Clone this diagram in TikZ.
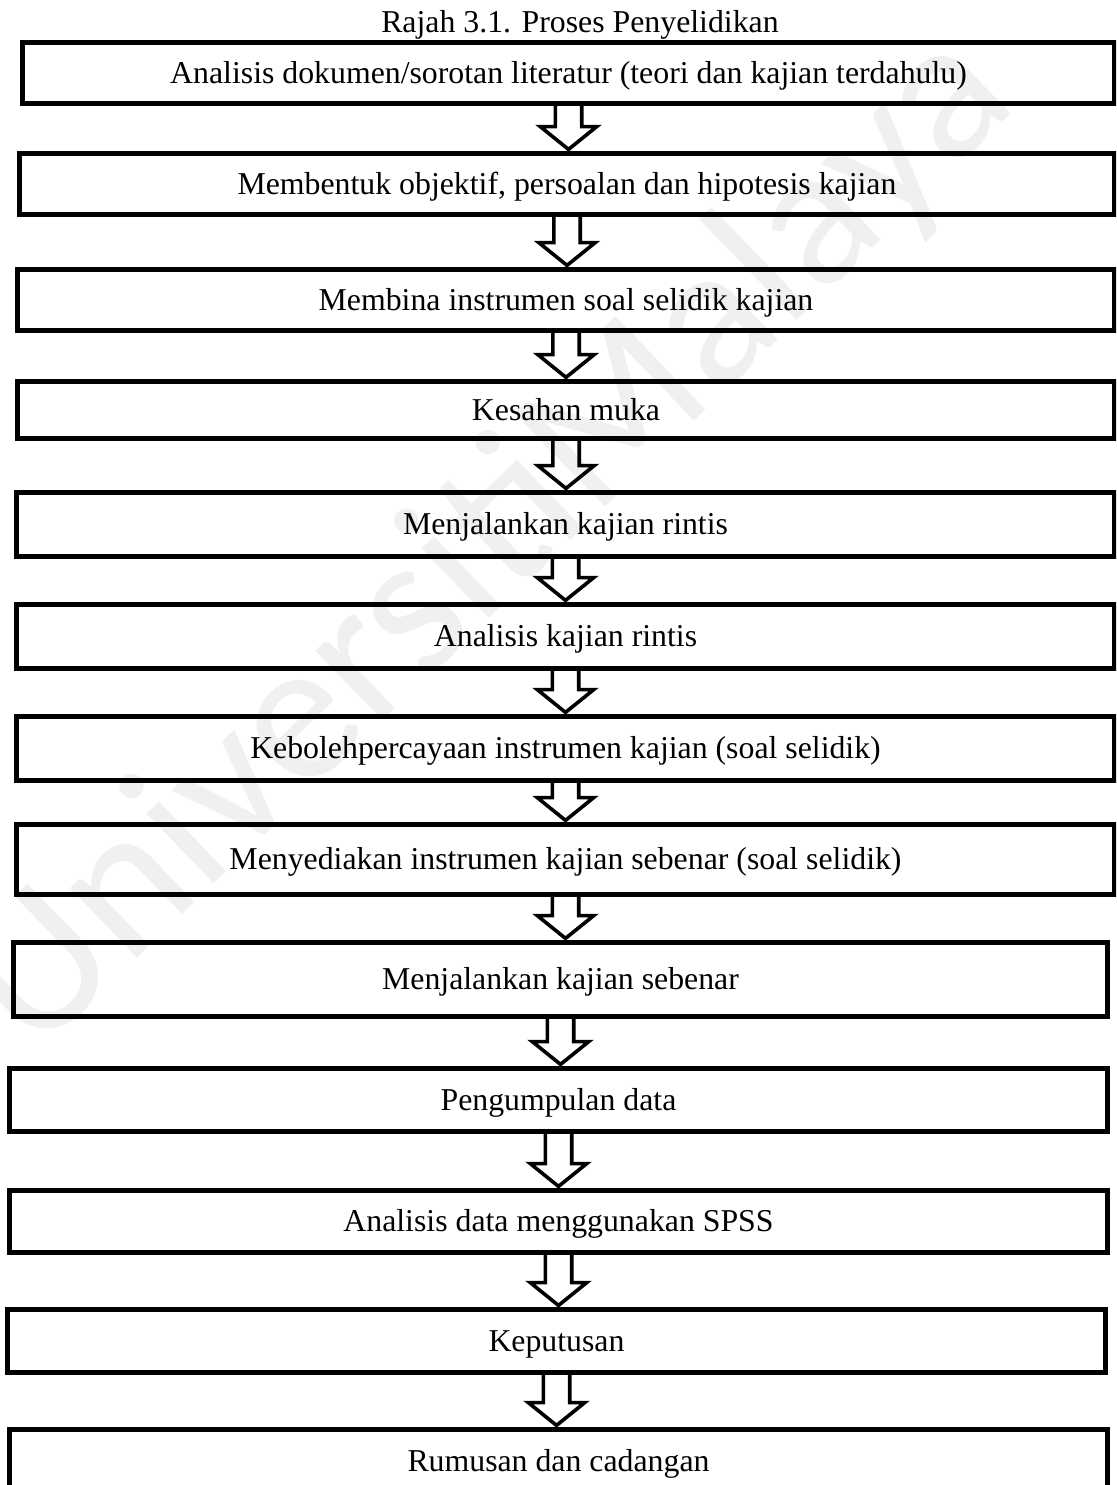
\documentclass[tikz,border=0pt]{standalone}
\usepackage{fontspec}
\setmainfont{Liberation Serif}
\newfontfamily\wmfont{Carlito}
\usetikzlibrary{calc}
\tikzset{
  stepbox/.style={draw=black, line width=2.5pt, inner sep=0pt, align=center,
    font=\fontsize{15.9}{18}\selectfont, text height=10.8pt, text depth=0.6pt},
  titletext/.style={inner sep=0pt, font=\fontsize{15.9}{18}\selectfont},
  hollow/.style={draw=black, line width=1.8pt, line join=miter},
  wmark/.style={inner sep=0pt, text=black!6, font=\wmfont\fontsize{101}{105}\selectfont}
}
\newcommand\pbox[6]{%
  \node[stepbox, minimum width={(#4-#2-5)*0.5pt}, minimum height={(#5-#3-5)*0.5pt}]
    (#1) at ({(#2+#4)/2},{(#3+#5)/2}) {#6};}
\newcommand\barrow[3]{%
  \path (#3,0) |- (#1.south) coordinate (tp);
  \path (#3,0) |- (#2.north) coordinate (bt);
  \draw[hollow] let \p1=(tp), \p2=(bt) in
    (\x1-6.6pt,\y1+2pt) -- (\x1-6.6pt,\y2+12.2pt) -- (\x1-14.1pt,\y2+12.2pt)
    -- (\x1,\y2+0.8pt) -- (\x1+14.1pt,\y2+12.2pt) -- (\x1+6.6pt,\y2+12.2pt)
    -- (\x1+6.6pt,\y1+2pt);}
\begin{document}
\begin{tikzpicture}[x=0.5pt,y=-0.5pt]
\clip (0,0) rectangle (1116,1485);
\fill[white] (0,0) rectangle (1116,1485);
\node[wmark, rotate=44, anchor=base west] (wm) at (34,1058) {UniversitiMalaya};
\node[titletext, anchor=base] (title) at (580,32) {Rajah 3.1. Proses Penyelidikan};
\pbox{b1}{20}{40}{1117}{106}{Analisis dokumen/sorotan literatur (teori dan kajian terdahulu)}
\pbox{b2}{17}{151}{1117}{217}{Membentuk objektif, persoalan dan hipotesis kajian}
\pbox{b3}{15}{267}{1117}{333}{Membina instrumen soal selidik kajian}
\pbox{b4}{15}{379}{1117}{441}{Kesahan muka}
\pbox{b5}{14}{490}{1117}{559}{Menjalankan kajian rintis}
\pbox{b6}{14}{602}{1117}{671}{Analisis kajian rintis}
\pbox{b7}{14}{714}{1117}{783}{Kebolehpercayaan instrumen kajian (soal selidik)}
\pbox{b8}{14}{822}{1117}{897}{Menyediakan instrumen kajian sebenar (soal selidik)}
\pbox{b9}{11}{940}{1110}{1019}{Menjalankan kajian sebenar}
\pbox{b10}{7}{1066}{1110}{1134}{Pengumpulan data}
\pbox{b11}{7}{1188}{1110}{1255}{Analisis data menggunakan SPSS}
\pbox{b12}{5}{1307}{1108}{1375}{Keputusan}
\pbox{b13}{7}{1427}{1110}{1495}{Rumusan dan cadangan}
\barrow{b1}{b2}{552}
\barrow{b2}{b3}{552}
\barrow{b3}{b4}{555}
\barrow{b4}{b5}{555}
\barrow{b5}{b6}{562}
\barrow{b6}{b7}{565}
\barrow{b7}{b8}{565}
\barrow{b8}{b9}{562}
\barrow{b9}{b10}{562}
\barrow{b10}{b11}{560}
\barrow{b11}{b12}{557}
\barrow{b12}{b13}{557}
\end{tikzpicture}
\end{document}
